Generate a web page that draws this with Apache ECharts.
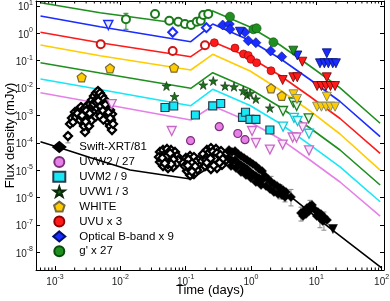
<!DOCTYPE html>
<html><head><meta charset="utf-8">
<script src="https://cdn.jsdelivr.net/npm/echarts@6/dist/echarts.min.js"></script>
<style>html,body{margin:0;padding:0;background:#fff}#c{width:390px;height:301px}</style>
</head><body><div id="c"></div>
<script>
// ---------- axis ranges ----------
const X_MIN = 5.12e-4, X_MAX = 108.9;
const Y_MIN = 2.29e-9, Y_MAX = 15.1;

// ---------- model curves ----------
const lineTimes = [6e-4, 4.9e-3, 0.12, 0.26, 0.97, 2.79, 8.0, 23.1, 95];
const modelG = [13.1, 5.65, 2.01, 6.5, 1.70, 0.374, 0.064, 0.0101, 5.2e-4];
const modelB = [4.28, 1.74, 0.493, 2.18, 0.546, 0.120, 0.0206, 3.24e-3, 1.68e-4];
const modelU = [1.09, 0.454, 0.140, 0.493, 0.131, 0.0288, 4.93e-3, 7.76e-4, 4.17e-5];
const modelWhite = [0.374, 0.152, 0.0457, 0.171, 0.0421, 8.5e-3, 1.46e-3, 2.11e-4, 1.02e-5];
const modelW1 = [0.0845, 0.0356, 9.8e-3, 0.0365, 9.27e-3, 2.04e-3, 3.49e-4, 5.5e-5, 2.9e-6];
const modelM2 = [0.0215, 8.89e-3, 2.28e-3, 9.04e-3, 2.32e-3, 5.1e-4, 8.4e-5, 1.32e-5, 7.1e-7];
const modelW2 = [6.8e-3, 2.74e-3, 6.85e-4, 2.22e-3, 5.8e-4, 1.39e-4, 2.37e-5, 3.73e-6, 2.14e-7];
const xrtModelT = [6e-4, 1.15e-3, 3.43e-3, 0.0141, 0.119, 0.198, 0.40, 0.81, 1.64, 4.1, 16.2, 101];
const xrtModelF = [1.1e-4, 6.8e-5, 2.93e-5, 1.02e-5, 4.8e-6, 1.02e-5, 1.56e-5, 1.21e-5, 4.8e-6, 1.06e-6, 7.8e-8, 2.7e-9];

// ---------- photometry ----------
const gEarly = [[0.0122,3.24],[0.034,5.06],[0.0562,2.88],[0.0772,2.65],[0.0977,2.18],[0.121,2.01],[0.148,2.65],[0.170,2.88],[0.186,4.66],[0.222,5.06]];
const gErr = [[0.0122,1.40,5.37]];
const gLate = [[0.478,4.04],[1.09,1.40],[1.22,1.52],[2.21,0.469]];
const gUL = [[4.45,0.232]];

const bEarlyUL = [[6.55e-3,2.01]];
const bEarly = [[0.0634,1.09],[0.208,1.60]];
const bLate = [[0.369,2.01],[0.467,2.18],[0.478,1.40],[0.811,1.09],[0.91,0.537],[1.19,0.454],[2.00,0.226],[2.96,0.140]];
const bUL = [[0.679,1.14],[5.13,0.155],[14.5,0.186],[11.4,0.0803],[13.3,0.0803],[15.3,0.0803],[17.9,0.0803],[20.0,0.0803]];

const uEarly = [[5.01e-3,0.397],[0.0634,0.226],[0.198,0.365]];
const uLate = [[0.275,0.454],[0.570,0.290],[0.769,0.176],[0.91,0.155],[1.00,0.112],[1.22,0.0845],[2.03,0.0431]];
const uUL = [[3.06,0.0197],[4.45,0.0248],[5.12,0.0248],[6.11,0.0919],[14.5,0.0248],[10.3,0.0119],[12.0,0.0119],[14.1,0.0119],[16.5,0.0119],[19.4,0.0119]];

const whitePts = [[2.56e-3,0.0248],[6.95e-3,0.0528],[0.0664,0.0555],[2.03,9.83e-3],[2.96,5.23e-3]];
const whiteUL = [[4.48,5.93e-3],[5.07,4.0e-3],[14.5,4.85e-3],[10.3,2.09e-3],[12.0,2.09e-3],[14.1,2.09e-3],[16.5,2.09e-3],[19.4,2.09e-3]];

const w1Pts = [[0.0509,0.0119],[0.0676,4.93e-3],[0.186,0.0130],[0.265,0.0182],[0.401,0.0119],[0.550,0.0112],[0.763,8.03e-3],[0.871,5.6e-3],[0.967,6.35e-3],[1.19,4.0e-3],[1.95,1.88e-3]];
const w1UL = [[3.10,1.46e-3],[4.45,2.98e-3],[5.01,2.22e-3],[7.65,7.9e-4]];

const m2Pts = [[0.0483,1.96e-3],[0.0656,2.22e-3],[0.141,1.04e-3],[0.260,2.26e-3],[0.344,2.74e-3],[0.743,8.6e-4],[0.826,1.31e-3],[0.967,7.26e-4],[1.19,7.26e-4],[1.95,2.95e-4]];
const m2UL = [[3.10,3.9e-4],[4.56,8.2e-4],[5.16,6.3e-4],[7.74,2.15e-4]];

const w2Pts = [[0.119,1.20e-4],[0.327,3.9e-4],[0.629,2.2e-4],[0.811,1.31e-4]];
const w2UL = [[7.38e-3,2.58e-3],[0.0612,2.72e-4],[1.04,2.72e-4],[1.19,9.9e-5],[1.95,5.7e-5],[3.06,8.7e-5],[4.35,1.57e-4],[4.98,1.57e-4],[6.19,3.7e-4],[7.74,5.3e-5]];

// ---------- X-ray ----------
const xrtFlare = [[1.58e-3,1.78e-4],[2.88e-3,2.5e-4],[1.70e-3,4.9e-4],[1.82e-3,8.1e-4],[1.89e-3,5.8e-4],[2.02e-3,1.34e-3],[2.10e-3,8.8e-4],[2.25e-3,1.58e-3],[2.33e-3,1.04e-3],[2.41e-3,6.8e-4],[2.50e-3,2.04e-3],[2.59e-3,1.34e-3],[2.69e-3,8.1e-4],[2.78e-3,4.1e-4],[2.88e-3,1.87e-3],[2.98e-3,1.13e-3],[3.09e-3,2.22e-3],[3.20e-3,1.58e-3],[3.20e-3,6.8e-4],[3.32e-3,4.1e-4],[3.43e-3,2.62e-3],[3.56e-3,1.58e-3],[3.68e-3,3.67e-3],[3.68e-3,9.6e-4],[3.82e-3,2.22e-3],[3.95e-3,5.1e-3],[4.10e-3,1.34e-3],[4.10e-3,3.1e-3],[4.24e-3,6.6e-3],[4.40e-3,4.0e-3],[4.40e-3,1.87e-3],[4.55e-3,7.8e-3],[4.72e-3,5.1e-3],[4.72e-3,2.62e-3],[4.88e-3,1.34e-3],[4.88e-3,6.6e-3],[5.06e-3,3.67e-3],[5.24e-3,5.1e-3],[5.24e-3,1.87e-3],[5.43e-3,2.62e-3],[5.62e-3,4.0e-3],[5.62e-3,1.13e-3],[5.83e-3,1.87e-3],[6.04e-3,3.1e-3],[6.04e-3,8.1e-4],[6.25e-3,1.34e-3],[6.48e-3,2.22e-3],[6.48e-3,5.8e-4],[6.71e-3,9.6e-4],[6.95e-3,1.58e-3],[6.95e-3,4.1e-4],[7.20e-3,6.8e-4],[7.46e-3,1.13e-3],[7.46e-3,2.95e-4],[7.73e-3,4.9e-4],
 [2.2e-3,1.2e-3],[2.6e-3,1.0e-3],[3.0e-3,1.5e-3],[3.4e-3,1.2e-3],[3.9e-3,2.6e-3],[4.3e-3,3.0e-3],[4.6e-3,3.4e-3],[5.0e-3,2.2e-3],[5.4e-3,1.5e-3],[5.9e-3,2.5e-3],[6.6e-3,1.3e-3],[7.0e-3,8e-4],[3.6e-3,6.5e-4],[2.95e-3,6e-4],[4.2e-3,9e-4],[4.9e-3,9.5e-4],[5.5e-3,7e-4]];
const xrtMid = [[0.0405,4.65e-5],[0.0451,5.5e-5],[0.0519,6.0e-5],[0.0598,5.5e-5],[0.0688,4.65e-5],[0.0738,3.32e-5],[0.0764,2.37e-5],[0.0712,1.69e-5],[0.0641,1.31e-5],[0.0537,1.21e-5],[0.0451,1.43e-5],[0.0405,2.0e-5],[0.0391,3.05e-5],[0.0467,3.6e-5],[0.0537,3.93e-5],[0.0619,3.05e-5],[0.0577,2.18e-5],[0.0484,2.37e-5],[0.0537,1.69e-5],
 [0.05,3e-5],[0.058,4.2e-5],[0.044,2.8e-5],[0.065,2.5e-5],[0.06,1.7e-5],[0.048,1.8e-5],
 [0.101,2.81e-5],[0.117,3.32e-5],[0.134,3.05e-5],[0.155,2.37e-5],[0.160,1.56e-5],[0.149,1.02e-5],[0.134,7.3e-6],[0.117,6.7e-6],[0.105,9.4e-6],[0.097,1.43e-5],[0.113,2.0e-5],[0.129,1.43e-5],[0.117,1.11e-5],[0.144,2.0e-5],
 [0.11,2.5e-5],[0.125,1.8e-5],[0.14,1.4e-5],[0.108,1.5e-5],[0.125,9e-6],
 [0.185,3.93e-5],[0.212,5.5e-5],[0.244,6.5e-5],[0.292,6.0e-5],[0.348,5.05e-5],[0.401,3.6e-5],[0.415,2.37e-5],[0.360,1.56e-5],[0.302,1.21e-5],[0.244,1.11e-5],[0.198,1.43e-5],[0.178,2.18e-5],[0.220,3.32e-5],[0.272,3.6e-5],[0.325,2.81e-5],[0.253,2.0e-5],[0.302,2.0e-5],[0.205,2.37e-5],
 [0.23,4.5e-5],[0.26,4.8e-5],[0.3,4.2e-5],[0.34,3.6e-5],[0.37,2.6e-5],[0.28,2.6e-5],[0.24,2.7e-5],[0.21,1.9e-5],[0.27,1.5e-5],[0.33,1.9e-5]];
const xrtLate = [[0.461,5.5e-5],[0.513,4.65e-5],[0.570,5.05e-5],[0.633,3.93e-5],[0.704,3.32e-5],[0.783,2.81e-5],[0.870,2.37e-5],[0.967,2.0e-5],[1.07,1.69e-5],[1.19,1.43e-5],[1.33,1.11e-5],[1.48,9.4e-6],
 [0.461,2.81e-5],[0.513,2.18e-5],[0.570,2.37e-5],[0.633,1.84e-5],[0.704,1.56e-5],[0.783,1.31e-5],[0.870,1.11e-5],[0.967,8.65e-6],[1.07,7.3e-6],[1.19,6.2e-6],[1.33,5.2e-6],[1.48,4.4e-6],
 [0.495,1.43e-5],[0.590,1.21e-5],[0.704,8.65e-6],[0.840,6.7e-6],[1.00,5.2e-6],[1.19,3.73e-6],[1.43,2.9e-6],
 [1.64,6.2e-6],[1.82,4.8e-6],[2.03,3.73e-6],[2.25,3.15e-6],[2.51,2.67e-6],[2.79,2.25e-6],[3.10,1.9e-6],[3.44,1.61e-6],[1.70,2.67e-6],[1.96,2.07e-6],[2.25,1.61e-6],[2.60,1.36e-6],[2.99,1.25e-6],[3.32,1.06e-6],[4.10,1.06e-6],
 [5.84,2.76e-7],[6.49,3.26e-7],[7.22,4.2e-7],[8.02,4.97e-7],[8.6,5.4e-7],[6.26,2.14e-7],[6.97,2.54e-7],[7.74,3.26e-7],
 [9.56,3.55e-7],[10.6,3.0e-7],[11.8,2.54e-7],[13.1,1.97e-7],[14.6,1.53e-7],[10.2,2.14e-7],[11.4,1.81e-7],[12.6,1.41e-7]];
const xrtUL = [[18.0,7.2e-8]];
const xrtErr = [[1.58e-3,1.0e-4,2.4e-4],[2.03,2.2e-6,6e-6],[2.25,1.6e-6,4.0e-6],[2.79,9.0e-7,3.0e-6],[3.32,7e-7,1.6e-6],[4.10,5.0e-7,2.0e-6],[5.84,1.4e-7,4.5e-7],[8.02,2.6e-7,8e-7],[11.4,8e-8,3e-7],[13.1,6.5e-8,3e-7]];

// ---------- helpers ----------
const FONT = 'Liberation Sans, Arial, sans-serif';
const zip = (t, f) => t.map((v, i) => [v, f[i]]);
const PENT = 'path://M50,0 L97.6,34.5 L79.4,90.5 L20.6,90.5 L2.4,34.5 Z';
const STAR = 'path://M50,0 L61.8,35.1 L98.8,35.1 L68.9,56.8 L80.3,91.9 L50,70.2 L19.7,91.9 L31.1,56.8 L1.2,35.1 L38.2,35.1 Z';

function powLabel(v) {
  const e = Math.log10(v), r = Math.round(e);
  if (Math.abs(e - r) > 1e-6) return '';
  return '{b|10}{s|' + r + '}';
}
const labelRich = {
  b: {fontSize: 10, fontFamily: FONT, color: '#222', lineHeight: 13, verticalAlign: 'bottom'},
  s: {fontSize: 7, fontFamily: FONT, color: '#222', lineHeight: 8, verticalAlign: 'top'}
};

const minorX = [];
for (let k = -4; k <= 2; k++) for (let m = 2; m <= 9; m++) {
  const v = m * Math.pow(10, k);
  if (v > X_MIN && v < X_MAX) minorX.push([v, 1e-3]);
}

function lineSeries(name, t, f, color) {
  return {name, type: 'line', data: zip(t, f), showSymbol: false, symbol: 'none', silent: true, z: 2,
    lineStyle: {color, width: 1.6}, itemStyle: {color}};
}
function sc(name, data, symbol, size, fill, border, bw, rot) {
  return {name, type: 'scatter', data, symbol, symbolSize: size, symbolRotate: rot || 0, z: 3,
    itemStyle: {color: fill, borderColor: border, borderWidth: bw, opacity: 1}};
}
function errSeries(data, color) {
  return {type: 'custom', data, z: 2, silent: true, encode: {x: 0, y: [1, 2]},
    renderItem(params, api) {
      const t = api.value(0);
      const p1 = api.coord([t, api.value(1)]), p2 = api.coord([t, api.value(2)]);
      const c = 2.5, st = {stroke: color, lineWidth: 1};
      return {type: 'group', children: [
        {type: 'line', shape: {x1: p1[0], y1: p1[1], x2: p2[0], y2: p2[1]}, style: st},
        {type: 'line', shape: {x1: p1[0]-c, y1: p1[1], x2: p1[0]+c, y2: p1[1]}, style: st},
        {type: 'line', shape: {x1: p2[0]-c, y1: p2[1], x2: p2[0]+c, y2: p2[1]}, style: st}]};
    }};
}

const GREEN = '#1f8f1f', BLUE = '#1a2cff', RED = '#ff1a1a', GOLD = '#ffcc00', CYAN = '#16e8f8', VIOLET = '#e680e6';

const series = [
  lineSeries('mG', lineTimes, modelG, GREEN),
  lineSeries('mB', lineTimes, modelB, BLUE),
  lineSeries('mU', lineTimes, modelU, RED),
  lineSeries('mWh', lineTimes, modelWhite, GOLD),
  lineSeries('mW1', lineTimes, modelW1, GREEN),
  lineSeries('mM2', lineTimes, modelM2, CYAN),
  lineSeries('mW2', lineTimes, modelW2, VIOLET),
  lineSeries('mX', xrtModelT, xrtModelF, '#000'),
  errSeries(xrtErr, '#888'),
  errSeries(gErr, GREEN),
  sc('xrtFlare', xrtFlare, 'diamond', 8, '#fff', '#000', 2.3),
  sc('xrtMid', xrtMid, 'diamond', 8, '#fff', '#000', 2.3),
  sc('Swift-XRT/81', xrtLate, 'diamond', 9, '#000', '#000', 0.5),
  sc('xrtUL', xrtUL, 'triangle', 9, '#000', '#000', 0.5, 180),
  sc('UVW2 / 27', w2Pts, 'circle', 8, VIOLET, '#7a2f7a', 1.2),
  sc('w2UL', w2UL, 'triangle', 9, '#fbe6fb', '#c768c7', 1.3, 180),
  sc('UVM2 / 9', m2Pts, 'rect', 8, CYAN, '#2a3a4a', 1.2),
  sc('m2UL', m2UL, 'triangle', 9, '#e6fdff', '#12c8d8', 1.3, 180),
  sc('UVW1 / 3', w1Pts, STAR, 9, '#1d6e1d', '#0a2a0a', 0.6),
  sc('w1UL', w1UL, 'triangle', 9, '#e8f5e8', '#1d7a1d', 1.3, 180),
  sc('WHITE', whitePts, PENT, 9, GOLD, '#7a6a3a', 1.2),
  sc('whUL', whiteUL, 'triangle', 9, GOLD, '#8a8a6a', 1, 180),
  sc('uEarly', uEarly, 'circle', 8, '#fff', '#d01515', 2),
  sc('UVU x 3', uLate, 'circle', 8, RED, '#8b0000', 0.6),
  sc('uUL', uUL, 'triangle', 9, RED, '#6a0000', 0.8, 180),
  sc('bEarlyUL', bEarlyUL, 'triangle', 9, '#e8ecff', BLUE, 1.5, 180),
  sc('bEarly', bEarly, 'diamond', 9, '#fff', BLUE, 2),
  sc('Optical B-band x 9', bLate, 'diamond', 10, BLUE, '#001070', 0.6),
  sc('bUL', bUL, 'triangle', 9, BLUE, '#001070', 0.8, 180),
  sc('gEarly', gEarly, 'circle', 8, '#fff', '#1a7a1a', 2),
  sc("g' x 27", gLate, 'circle', 9, GREEN, '#0a4a0a', 0.6),
  sc('gUL', gUL, 'triangle', 9, GREEN, '#0a4a0a', 0.8, 180),
  {type: 'custom', data: minorX, z: 6, silent: true, encode: {x: 0, y: 1},
    renderItem(params, api) {
      const cs = params.coordSys;
      const x = api.coord([api.value(0), api.value(1)])[0];
      const st = {stroke: '#000', lineWidth: 1};
      return {type: 'group', children: [
        {type: 'line', shape: {x1: x, y1: cs.y + cs.height, x2: x, y2: cs.y + cs.height - 2.5}, style: st},
        {type: 'line', shape: {x1: x, y1: cs.y, x2: x, y2: cs.y + 2.5}, style: st}]};
    }}
];

const axisCommon = {
  type: 'log', logBase: 10, splitLine: {show: false},
  axisLine: {show: true, onZero: false, lineStyle: {color: '#000', width: 1}},
  axisTick: {show: true, inside: true, length: 4, lineStyle: {color: '#000'}}
};

const option = {
  animation: false,
  backgroundColor: '#fff',
  grid: {left: 36, right: 6, top: 1, bottom: 31, containLabel: false, outerBoundsMode: 'none'},
  xAxis: [
    Object.assign({}, axisCommon, {position: 'bottom', min: X_MIN, max: X_MAX,
      name: 'Time (days)', nameLocation: 'middle', nameGap: 14, nameMoveOverlap: false,
      nameTextStyle: {fontSize: 13, fontFamily: FONT, color: '#000', verticalAlign: 'top'},
      axisLabel: {margin: 4, formatter: powLabel, rich: labelRich, showMinLabel: false, showMaxLabel: false}}),
    Object.assign({}, axisCommon, {position: 'top', min: X_MIN, max: X_MAX, axisLabel: {show: false}})
  ],
  yAxis: [
    Object.assign({}, axisCommon, {position: 'left', min: Y_MIN, max: Y_MAX,
      name: 'Flux density (mJy)', nameLocation: 'middle', nameGap: 19, nameRotate: 90, nameMoveOverlap: false,
      nameTextStyle: {fontSize: 13, fontFamily: FONT, color: '#000'},
      axisLabel: {margin: 3, formatter: powLabel, rich: labelRich, showMinLabel: false, showMaxLabel: false}}),
    Object.assign({}, axisCommon, {position: 'right', min: Y_MIN, max: Y_MAX, axisLabel: {show: false}})
  ],
  legend: {
    orient: 'vertical', left: 52.3, top: 141, padding: 0, itemWidth: 12, itemHeight: 10, itemGap: 2.9,
    textStyle: {fontSize: 11.5, fontFamily: FONT, color: '#000', lineHeight: 11, padding: [0, 0, 0, 9]},
    selectedMode: false,
    data: ['Swift-XRT/81', 'UVW2 / 27', 'UVM2 / 9', 'UVW1 / 3', 'WHITE', 'UVU x 3', 'Optical B-band x 9', "g' x 27"]
  },
  series
};

const chart = echarts.init(document.getElementById('c'), null, {renderer: 'canvas'});
chart.setOption(option);
</script></body></html>
